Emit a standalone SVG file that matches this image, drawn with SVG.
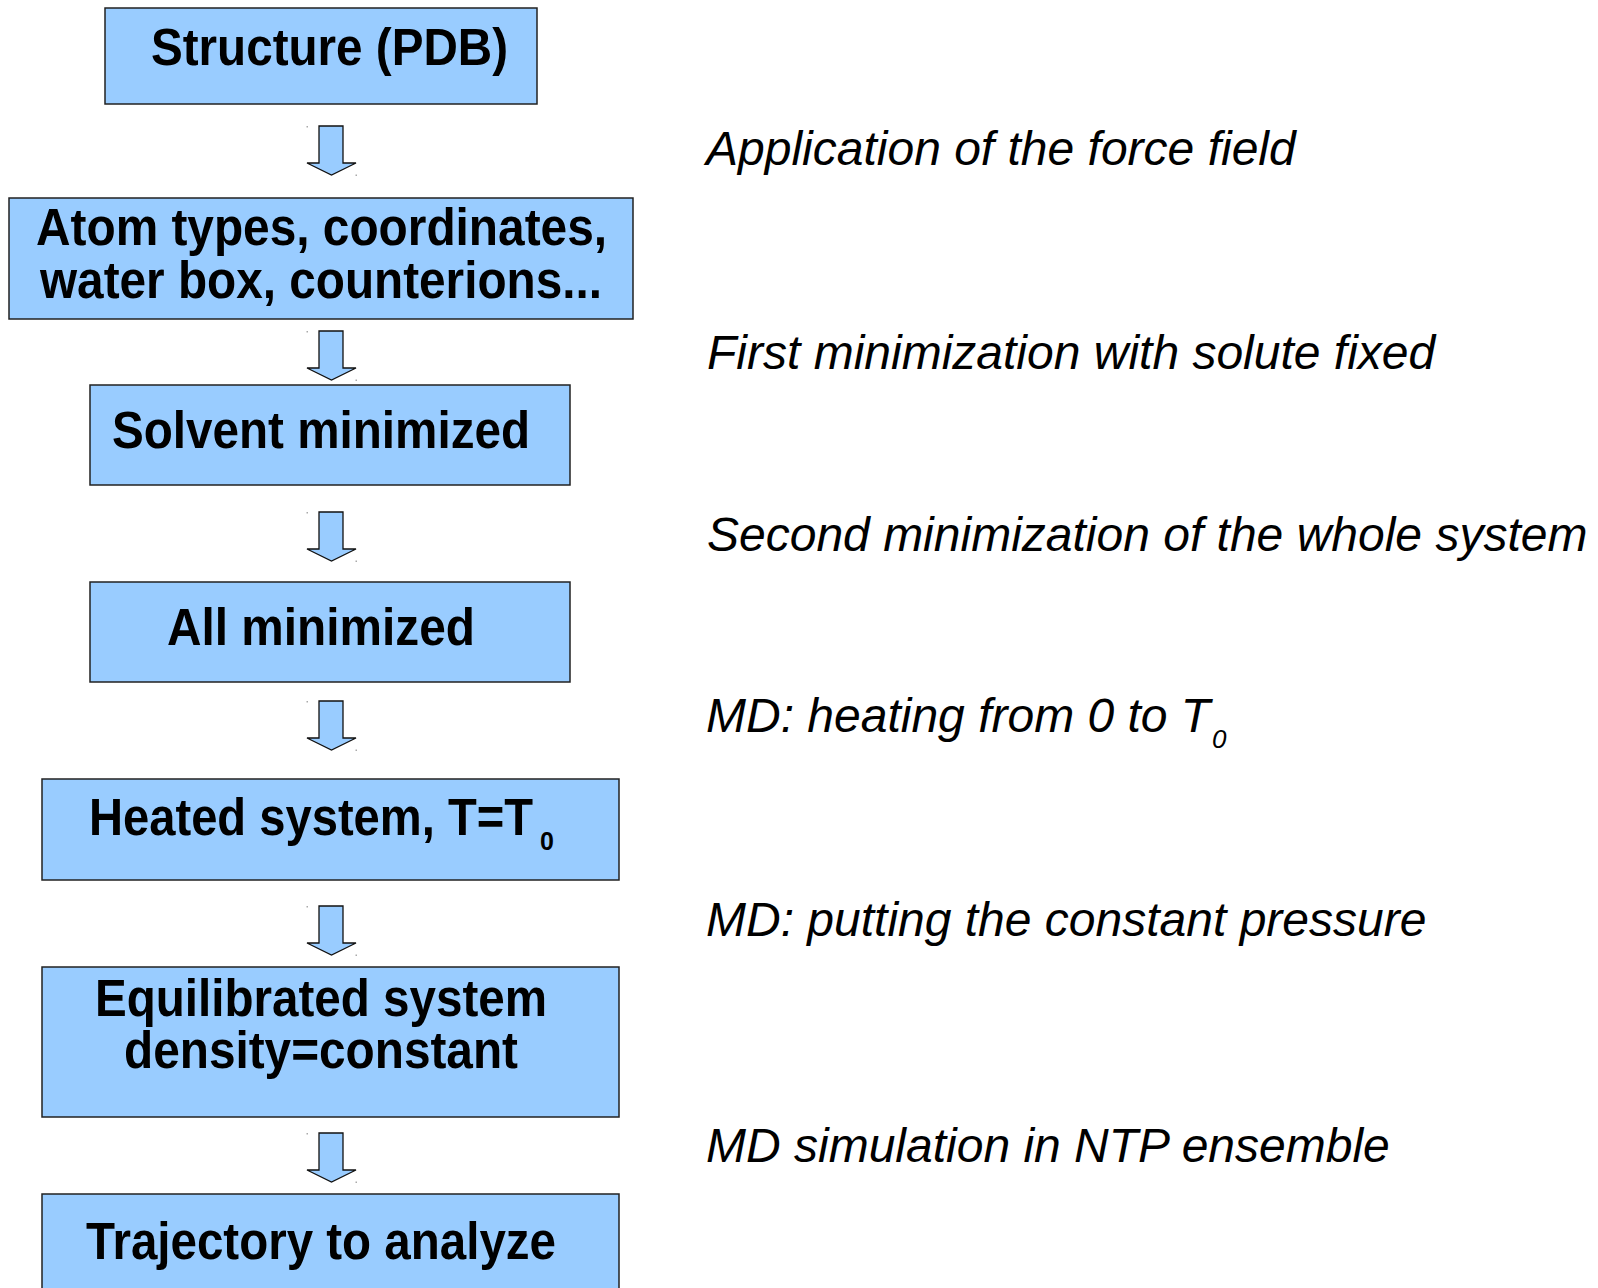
<svg xmlns="http://www.w3.org/2000/svg" width="1598" height="1288" viewBox="0 0 1598 1288">
<style>
.box{fill:#99ccff;stroke:#222;stroke-width:1.5}
.bt{font-family:"Liberation Sans",Arial,sans-serif;font-weight:bold;font-size:51px;fill:#000}
.sub{font-size:25px}
.rt{font-family:"Liberation Sans",Arial,sans-serif;font-style:italic;font-size:48px;fill:#000}
.rsub{font-size:26px}
.arr{fill:#99ccff;stroke:#111;stroke-width:1.3;stroke-linejoin:miter}
.dot{fill:#aaa}
</style>
<defs>
<g id="arrow">
<path class="arr" d="M319,0 H343 V37 H356 L331.5,49 L307,37 H319 Z"/>
<rect class="dot" x="306.5" y="0" width="1.5" height="1.5"/>
<rect class="dot" x="355.5" y="48.5" width="1.5" height="1.5"/>
</g>
</defs>
<rect width="1598" height="1288" fill="#fff"/>
<g id="connectors">
<use href="#arrow" y="126"/>
<use href="#arrow" y="331"/>
<use href="#arrow" y="512"/>
<use href="#arrow" y="701"/>
<use href="#arrow" y="906"/>
<use href="#arrow" y="1133"/>
</g>
<g id="n1">
<rect class="box" x="105" y="8" width="432" height="96"/>
<text class="bt" x="151" y="65" font-size="54" textLength="357" lengthAdjust="spacingAndGlyphs">Structure (PDB)</text>
</g>
<g id="n2">
<rect class="box" x="9" y="198" width="624" height="121"/>
<text class="bt" x="36" y="245" textLength="571" lengthAdjust="spacingAndGlyphs">Atom types, coordinates,</text>
<text class="bt" x="40" y="298" textLength="562" lengthAdjust="spacingAndGlyphs">water box, counterions...</text>
</g>
<g id="n3">
<rect class="box" x="90" y="385" width="480" height="100"/>
<text class="bt" x="112" y="448" textLength="418" lengthAdjust="spacingAndGlyphs">Solvent minimized</text>
</g>
<g id="n4">
<rect class="box" x="90" y="582" width="480" height="100"/>
<text class="bt" x="167" y="645" textLength="308" lengthAdjust="spacingAndGlyphs">All minimized</text>
</g>
<g id="n5">
<rect class="box" x="42" y="779" width="577" height="101"/>
<text class="bt" x="89" y="835"><tspan textLength="444" lengthAdjust="spacingAndGlyphs">Heated system, T=T</tspan><tspan class="sub" x="540" y="850">0</tspan></text>
</g>
<g id="n6">
<rect class="box" x="42" y="967" width="577" height="150"/>
<text class="bt" x="95" y="1016" textLength="452" lengthAdjust="spacingAndGlyphs">Equilibrated system</text>
<text class="bt" x="124" y="1068" textLength="394" lengthAdjust="spacingAndGlyphs">density=constant</text>
</g>
<g id="n7">
<rect class="box" x="42" y="1194" width="577" height="110"/>
<text class="bt" x="86" y="1259" textLength="470" lengthAdjust="spacingAndGlyphs">Trajectory to analyze</text>
</g>
<g id="labels">
<text class="rt" x="706" y="732">MD: heating from 0 to T<tspan class="rsub" x="1212" y="748">0</tspan></text>
<text class="rt" x="706" y="165">Application of the force field</text>
<text class="rt" x="707" y="369">First minimization with solute fixed</text>
<text class="rt" x="707" y="551">Second minimization of the whole system</text>
<text class="rt" x="706" y="936">MD: putting the constant pressure</text>
<text class="rt" x="706" y="1162">MD simulation in NTP ensemble</text>
</g>
</svg>
